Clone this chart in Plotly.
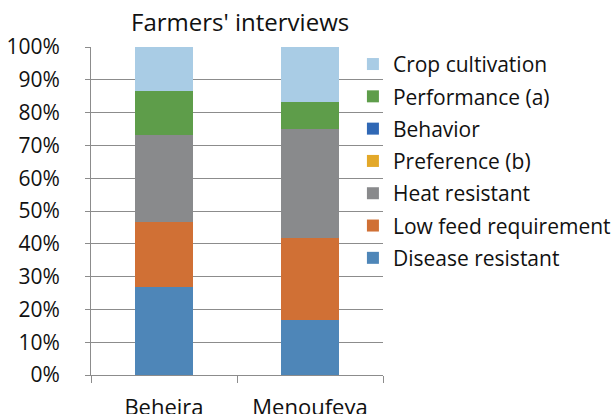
import plotly.graph_objects as go

categories = ["Beheira", "Menoufeya"]
series_names = ["Disease resistant", "Low feed requirement", "Heat resistant",
                "Preference (b)", "Behavior", "Performance (a)", "Crop cultivation"]
disease = [26.7, 16.7]
low_feed = [20.0, 25.0]
heat = [26.6, 33.3]
preference = [0, 0]
behavior = [0, 0]
performance = [13.4, 8.3]
crop = [13.3, 16.7]
colors = ["#4E86B8", "#D07035", "#898A8C", "#E3A829", "#3068B5", "#5E9D4A", "#A9CCE5"]
values = [disease, low_feed, heat, preference, behavior, performance, crop]

fig = go.Figure()
n = len(series_names)
for i, (name, vals, col) in enumerate(zip(series_names, values, colors)):
    fig.add_trace(go.Bar(x=categories, y=vals, name=name, marker_color=col,
                         marker_line_width=0, width=0.4, legendgroup=name,
                         legendrank=n - i))

font_family = "Open Sans, Liberation Sans, sans-serif"
fig.update_layout(
    barmode="stack",
    width=611, height=414,
    margin=dict(l=91, r=228, t=47, b=39, autoexpand=False),
    paper_bgcolor="white", plot_bgcolor="white",
    font=dict(family=font_family, size=20, color="#111"),
    title=dict(text="Farmers' interviews", x=0.393, xanchor="center", y=0.945, yanchor="middle",
               font=dict(size=24, color="#111")),
    legend=dict(traceorder="grouped", x=0.897, xanchor="left", y=1.0095, yanchor="top",
                font=dict(size=21), tracegroupgap=2, maxheight=330,
                bgcolor="rgba(0,0,0,0)", itemwidth=30),
    showlegend=True,
)
fig.update_yaxes(range=[0, 100], tickvals=[0, 10, 20, 30, 40, 50, 60, 70, 80, 90, 100],
                 ticktext=["0%", "10%", "20%", "30%", "40%", "50%", "60%", "70%", "80%", "90%", "100%"],
                 showgrid=True, gridcolor="#8c8c8c", gridwidth=1,
                 showline=True, linecolor="#8c8c8c", linewidth=1,
                 ticks="outside", ticklen=5, tickcolor="#8c8c8c", automargin=False,
                 ticklabelstandoff=21, zeroline=False, tickfont=dict(size=21))
fig.update_xaxes(showline=True, linecolor="#8c8c8c", linewidth=1,
                 ticks="outside", ticklen=7, tickcolor="#8c8c8c", tickson="boundaries",
                 automargin=False, tickfont=dict(size=22), ticklabelstandoff=13)
fig.write_html("out.html", config={"displayModeBar": False},
               post_script="document.body.style.margin='0';document.body.style.overflow='hidden';")
